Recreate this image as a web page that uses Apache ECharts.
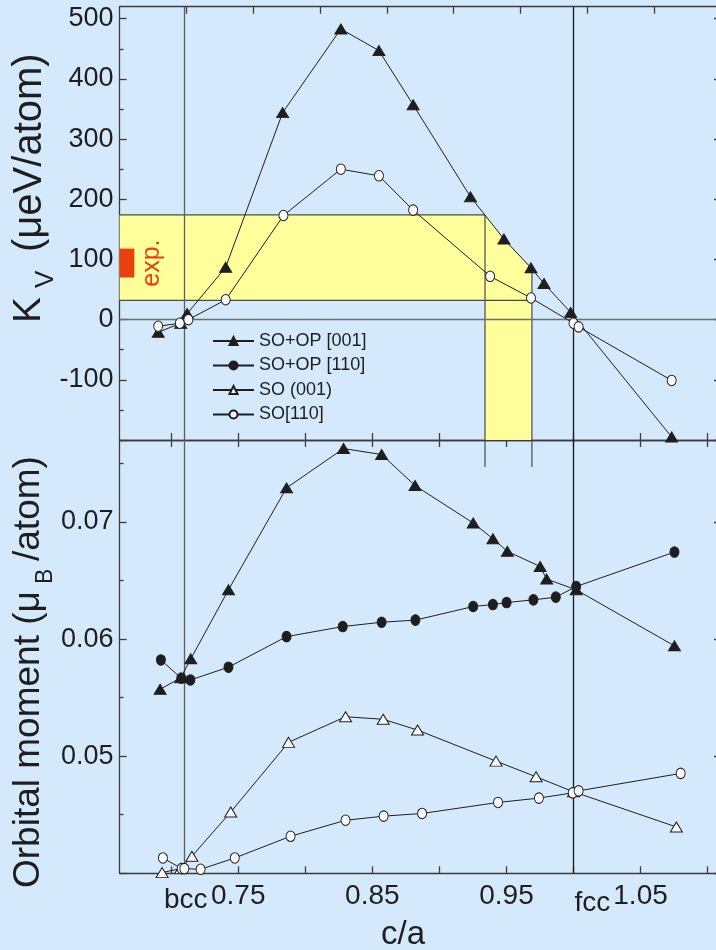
<!DOCTYPE html>
<html>
<head>
<meta charset="utf-8">
<script src="https://cdn.jsdelivr.net/npm/echarts@6/dist/echarts.min.js"></script>
<style>
  html, body { margin: 0; padding: 0; background: #d5e9fc; }
  #chart { width: 716px; height: 950px; }
</style>
</head>
<body>
<div id="chart"></div>
<script>
// ---- shared c/a axis ----
const caMin = 0.6615, caMax = 1.11;
const caTicks = [0.70, 0.75, 0.80, 0.85, 0.90, 0.95, 1.00, 1.05, 1.10];
const caLabels = [0.75, 0.85, 0.95, 1.05];
const caTopTicks = [0.711, 0.761, 0.811, 0.861, 0.910, 0.960, 1.0105, 1.0605];
const bccRatio = 0.7071, fccRatio = 1.0;

// ---- K_V panel (μeV/atom) ----
const kvMin = -200, kvMax = 520;
const kvMajor = [-200, -100, 0, 100, 200, 300, 400, 500];
const kvLabels = [-100, 0, 100, 200, 300, 400, 500];
const kvMinor = [-150, -50, 50, 150, 250, 350, 450];
const kvSOOP001 = [[0.6903,-21],[0.7071,-6],[0.7119,10],[0.7406,87],[0.7831,344],[0.8265,483],[0.8549,447],[0.8804,357],[0.9232,204],[0.9481,134],[0.9683,86],[0.978,60],[0.9979,12],[1.0732,-195]];
const kvSO110 = [[0.6903,-11],[0.7064,-6],[0.7128,0],[0.7406,33],[0.7837,173],[0.8265,250],[0.8549,239],[0.8804,182],[0.9378,72],[0.9683,36],[1.0,-6],[1.0038,-12],[1.0732,-101]];
// shaded window: K_V band and c/a strip
const bandK = [32, 174];
const bandCa = [0.934, 0.969];
const bandCurve = [[0.934,174],[0.9481,134],[0.969,84]];
const expK = [70, 118];
const expCaRight = 0.6725;

// ---- orbital moment panel (μB/atom) ----
const orbMin = 0.040, orbMax = 0.077;
const orbMajor = [0.04, 0.05, 0.06, 0.07];
const orbLabels = [0.05, 0.06, 0.07];
const orbMinor = [0.045, 0.055, 0.065, 0.075];
const orbStubEnd = 0.0747;
const orbSOOP001 = [[0.6917,0.05571],[0.7071,0.0567],[0.7146,0.05831],[0.7427,0.06421],[0.786,0.07291],[0.8285,0.07627],[0.8569,0.07576],[0.8818,0.07311],[0.9252,0.06991],[0.9399,0.06857],[0.9507,0.06749],[0.9751,0.0662],[0.98,0.06512],[1.002,0.06421],[1.0753,0.05942]];
const orbSOOP110 = [[0.6923,0.05822],[0.7075,0.05666],[0.7143,0.05651],[0.7427,0.0576],[0.786,0.06021],[0.8279,0.06107],[0.8569,0.06144],[0.8821,0.06162],[0.9252,0.06278],[0.9399,0.06295],[0.9501,0.06312],[0.9701,0.06335],[0.9868,0.06358],[1.002,0.06449],[1.0753,0.06743]];
const orbSO001 = [[0.6932,0.04006],[0.7071,0.0404],[0.7154,0.04145],[0.7444,0.04524],[0.7875,0.05118],[0.83,0.05337],[0.8581,0.05315],[0.8837,0.05223],[0.9422,0.04958],[0.9721,0.04824],[1.0,0.04696],[1.0767,0.04396]];
const orbSO110 = [[0.6938,0.04131],[0.7078,0.0404],[0.7098,0.0404],[0.7219,0.04034],[0.7474,0.04131],[0.789,0.04316],[0.83,0.04453],[0.8584,0.04488],[0.8871,0.04511],[0.9437,0.04605],[0.9742,0.04642],[0.9994,0.04687],[1.0038,0.04704],[1.0799,0.04853]];

const names = ['SO+OP [001]', 'SO+OP [110]', 'SO (001)', 'SO[110]'];

const ink = '#1e1e1e';
const axisColor = '#3c3c3c';
const font = 'Liberation Sans, Arial, sans-serif';

const chart = echarts.init(document.getElementById('chart'), null, { renderer: 'canvas' });

function xAxisDef(grid, pos, ticks, labels) {
  return {
    type: 'value', gridIndex: grid, position: pos, min: caMin, max: caMax,
    axisLine: { show: true, onZero: false, lineStyle: { color: axisColor, width: 1.3 } },
    axisTick: { show: true, inside: true, length: 7, customValues: ticks, lineStyle: { color: axisColor, width: 1.3 } },
    axisLabel: labels ? {
      show: true, customValues: labels, margin: 9, color: ink, fontSize: 28, fontFamily: font,
      formatter: v => v.toFixed(2)
    } : { show: false },
    splitLine: { show: false }
  };
}

function yAxisDef(grid, pos, min, max, ticks, labels, fmt, minor) {
  return {
    type: 'value', gridIndex: grid, position: pos, min: min, max: max,
    axisLine: { show: !minor, onZero: false, lineStyle: { color: axisColor, width: 1.3 } },
    axisTick: { show: true, inside: true, length: minor ? 4 : 7, customValues: ticks, lineStyle: { color: axisColor, width: 1.3 } },
    axisLabel: labels ? {
      show: true, customValues: labels, margin: 6, color: ink, fontSize: 27, fontFamily: font,
      formatter: fmt
    } : { show: false },
    splitLine: { show: false }
  };
}

const filled = { color: ink, borderColor: ink, borderWidth: 1 };
const hollow = { color: '#ffffff', borderColor: ink, borderWidth: 1 };
const triSize = [12, 10], circSize = [9, 10.5];

function lineSeries(name, data, xi, yi, symbol, style, extra) {
  return Object.assign({
    name: name, type: 'line', data: data, xAxisIndex: xi, yAxisIndex: yi,
    symbol: symbol, symbolSize: symbol === 'triangle' ? triSize : circSize,
    showAllSymbol: true, itemStyle: style,
    lineStyle: { color: ink, width: 1 }, z: 5, animation: false
  }, extra || {});
}

const guideLine = { color: '#4a4a4a', width: 1.2 };

const option = {
  backgroundColor: '#d5e9fc',
  animation: false,
  textStyle: { fontFamily: font },
  grid: [
    { left: 119.6, top: 6.7, width: 601.4, height: 433.3, outerBoundsMode: 'none', containLabel: false },
    { left: 119.6, top: 440, width: 601.4, height: 433.3, outerBoundsMode: 'none', containLabel: false }
  ],
  xAxis: [
    xAxisDef(0, 'bottom', caTicks, null),
    xAxisDef(0, 'top', caTopTicks, null),
    xAxisDef(1, 'bottom', caTicks, caLabels),
    xAxisDef(1, 'top', caTicks, null)
  ],
  yAxis: [
    yAxisDef(0, 'left', kvMin, kvMax, kvMajor, kvLabels, v => String(Math.round(v))),
    yAxisDef(0, 'right', kvMin, kvMax, kvMajor, null),
    yAxisDef(0, 'left', kvMin, kvMax, kvMinor, null, null, true),
    yAxisDef(0, 'right', kvMin, kvMax, kvMinor, null, null, true),
    yAxisDef(1, 'left', orbMin, orbMax, orbMajor, orbLabels, v => v.toFixed(2)),
    yAxisDef(1, 'right', orbMin, orbMax, orbMajor, null),
    yAxisDef(1, 'left', orbMin, orbMax, orbMinor, null, null, true),
    yAxisDef(1, 'right', orbMin, orbMax, orbMinor, null, null, true)
  ],
  legend: {
    data: names.map(n => ({ name: n })),
    orient: 'vertical', left: 207, top: 327,
    itemWidth: 41, itemHeight: 10, itemGap: 6.5,
    textStyle: { fontSize: 18, color: ink, fontFamily: font },
    selectedMode: false
  },
  series: [
    // shaded window and experimental range in the K_V panel
    {
      type: 'custom', name: 'window', xAxisIndex: 0, yAxisIndex: 0, z: 1, silent: true,
      data: [[0, 0]],
      renderItem: function (params, api) {
        const poly = [
          [caMin, bandK[1]], ...bandCurve,
          [bandCa[1], kvMin], [bandCa[0], kvMin], [bandCa[0], bandK[0]], [caMin, bandK[0]]
        ].map(p => api.coord(p));
        const seg = (a, b) => ({
          type: 'line',
          shape: { x1: api.coord(a)[0], y1: api.coord(a)[1], x2: api.coord(b)[0], y2: api.coord(b)[1] },
          style: { stroke: guideLine.color, lineWidth: guideLine.width }
        });
        const e0 = api.coord([caMin, expK[1]]);
        const e1 = api.coord([expCaRight, expK[0]]);
        return {
          type: 'group',
          children: [
            { type: 'polygon', shape: { points: poly }, style: { fill: '#ffff9c' } },
            seg([caMin, bandK[1]], [bandCa[0], bandK[1]]),
            seg([caMin, bandK[0]], [bandCa[1], bandK[0]]),
            seg([bandCa[0], bandK[1]], [bandCa[0], kvMin]),
            seg(bandCurve[2], [bandCa[1], kvMin]),
            { type: 'rect', shape: { x: e0[0], y: e0[1], width: e1[0] - e0[0], height: e1[1] - e0[1] },
              style: { fill: '#e8400e' } },
            { type: 'text', x: e1[0] + 18, y: (e0[1] + e1[1]) / 2, rotation: Math.PI / 2,
              style: { text: 'exp.', fill: '#e8400e', fontSize: 25, fontFamily: font,
                       align: 'center', verticalAlign: 'middle' } }
          ]
        };
      }
    },
    // strip edges continue a little into the lower panel
    {
      type: 'custom', name: 'stubs', xAxisIndex: 2, yAxisIndex: 4, z: 1, silent: true,
      data: bandCa.map(c => [c]),
      renderItem: function (params, api) {
        const a = api.coord([api.value(0), orbMax]);
        const b = api.coord([api.value(0), orbStubEnd]);
        return { type: 'line', shape: { x1: a[0], y1: a[1], x2: b[0], y2: b[1] },
                 style: { stroke: guideLine.color, lineWidth: guideLine.width } };
      }
    },
    lineSeries(names[0], kvSOOP001, 0, 0, 'triangle', filled, {
      markLine: {
        silent: true, symbol: ['none', 'none'], label: { show: false }, animation: false,
        data: [
          { yAxis: 0, lineStyle: { color: '#6e6e6e', width: 1.3, type: 'solid' } },
          { xAxis: bccRatio, lineStyle: { color: '#5e5e5e', width: 1.3, type: 'solid' } },
          { xAxis: fccRatio, lineStyle: { color: '#1a1a1a', width: 1.3, type: 'solid' } }
        ]
      }
    }),
    lineSeries(names[3], kvSO110, 0, 0, 'circle', hollow),
    lineSeries(names[0], orbSOOP001, 2, 4, 'triangle', filled, {
      markLine: {
        silent: true, symbol: ['none', 'none'], label: { show: false }, animation: false,
        data: [
          { xAxis: bccRatio, lineStyle: { color: '#5e5e5e', width: 1.3, type: 'solid' } },
          { xAxis: fccRatio, lineStyle: { color: '#1a1a1a', width: 1.3, type: 'solid' } }
        ]
      }
    }),
    lineSeries(names[1], orbSOOP110, 2, 4, 'circle', filled),
    lineSeries(names[2], orbSO001, 2, 4, 'triangle', hollow),
    lineSeries(names[3], orbSO110, 2, 4, 'circle', hollow)
  ]
};

chart.setOption(option);

// axis titles and structure labels
const bccPx = chart.convertToPixel({ xAxisIndex: 2, yAxisIndex: 4 }, [bccRatio, orbMin]);
const fccPx = chart.convertToPixel({ xAxisIndex: 2, yAxisIndex: 4 }, [fccRatio, orbMin]);
const up = Math.PI / 2;
chart.setOption({
  graphic: [
    { type: 'text', x: 29.5, y: 323, rotation: up,
      style: { text: 'K', fontSize: 39, fontFamily: font, fill: ink, align: 'left', verticalAlign: 'middle' } },
    { type: 'text', x: 46, y: 288, rotation: up,
      style: { text: 'V', fontSize: 26, fontFamily: font, fill: ink, align: 'left', verticalAlign: 'middle' } },
    { type: 'text', x: 29.5, y: 252, rotation: up,
      style: { text: '(μeV/atom)', fontSize: 40, fontFamily: font, fill: ink, align: 'left', verticalAlign: 'middle' } },
    { type: 'text', x: 28.5, y: 888, rotation: up,
      style: { text: 'Orbital moment (μ', fontSize: 37, fontFamily: font, fill: ink, align: 'left', verticalAlign: 'middle' } },
    { type: 'text', x: 46, y: 584, rotation: up,
      style: { text: 'B', fontSize: 23, fontFamily: font, fill: ink, align: 'left', verticalAlign: 'middle' } },
    { type: 'text', x: 28.5, y: 561, rotation: up,
      style: { text: '/atom)', fontSize: 37, fontFamily: font, fill: ink, align: 'left', verticalAlign: 'middle' } },
    { type: 'text', x: bccPx[0] + 5, y: bccPx[1] + 27,
      style: { text: 'bcc', fontSize: 28, fontFamily: font, fill: ink, align: 'center', verticalAlign: 'middle' } },
    { type: 'text', x: fccPx[0] + 1, y: fccPx[1] + 30,
      style: { text: 'fcc', fontSize: 28, fontFamily: font, fill: ink, align: 'left', verticalAlign: 'middle' } },
    { type: 'text', x: 403, y: 935,
      style: { text: 'c/a', fontSize: 33, fontFamily: font, fill: ink, align: 'center', verticalAlign: 'middle' } }
  ]
});
</script>
</body>
</html>
